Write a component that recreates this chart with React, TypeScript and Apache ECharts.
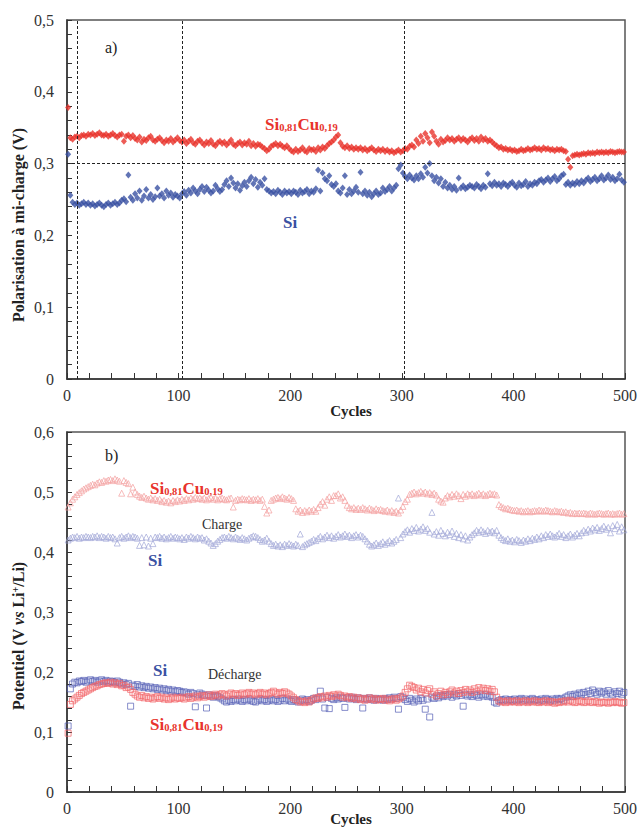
import React, { useEffect, useRef } from "react";
import * as echarts from "echarts";

// Sampled every 2 cycles: 1, 3, 5, ... 499
const CYCLES: number[] = Array.from({ length: 250 }, (_, i) => 2 * i + 1);

// a) Polarisation à mi-charge (V)
const POL_SICU = [
  0.378, 0.336, 0.334, 0.337, 0.338, 0.336, 0.339, 0.340, 0.338, 0.341,
  0.340, 0.342, 0.339, 0.341, 0.343, 0.340, 0.339, 0.341, 0.338, 0.340,
  0.342, 0.339, 0.337, 0.340, 0.341, 0.331, 0.338, 0.340, 0.336, 0.339,
  0.335, 0.333, 0.337, 0.330, 0.334, 0.332, 0.336, 0.338, 0.333, 0.331,
  0.334, 0.336, 0.332, 0.329, 0.333, 0.331, 0.335, 0.330, 0.333, 0.336,
  0.332, 0.330, 0.333, 0.328, 0.331, 0.334, 0.329, 0.327, 0.331, 0.333,
  0.329, 0.326, 0.330, 0.328, 0.332, 0.327, 0.325, 0.329, 0.331, 0.328,
  0.330, 0.326, 0.329, 0.333, 0.327, 0.325, 0.328, 0.330, 0.326, 0.329,
  0.327, 0.331, 0.325, 0.328, 0.324, 0.327, 0.326, 0.323, 0.321, 0.318,
  0.320, 0.324, 0.326, 0.328, 0.325, 0.327, 0.324, 0.322, 0.325, 0.321,
  0.318, 0.316, 0.320, 0.317, 0.319, 0.322, 0.318, 0.316, 0.321, 0.319,
  0.320, 0.317, 0.322, 0.319, 0.323, 0.321, 0.325, 0.328, 0.330, 0.333,
  0.337, 0.340, 0.329, 0.324, 0.322, 0.325, 0.321, 0.323, 0.320, 0.322,
  0.320, 0.322, 0.319, 0.321, 0.318, 0.320, 0.322, 0.319, 0.317, 0.320,
  0.318, 0.320, 0.317, 0.319, 0.316, 0.318, 0.315, 0.317, 0.319, 0.316,
  0.318, 0.321, 0.320, 0.324, 0.326, 0.323, 0.333, 0.328, 0.338, 0.331,
  0.342, 0.336, 0.329, 0.344, 0.338, 0.331, 0.327, 0.334, 0.330, 0.332,
  0.336, 0.333, 0.335, 0.331, 0.334, 0.336, 0.332, 0.335, 0.333, 0.330,
  0.334, 0.336, 0.332, 0.335, 0.331, 0.337, 0.333, 0.335, 0.331, 0.333,
  0.330, 0.327, 0.325, 0.322, 0.323, 0.320, 0.321, 0.319, 0.320, 0.318,
  0.319, 0.317, 0.318, 0.320, 0.318, 0.319, 0.321, 0.319, 0.320, 0.322,
  0.320, 0.321, 0.319, 0.322, 0.320, 0.321, 0.319, 0.320, 0.318, 0.320,
  0.319, 0.320, 0.318, 0.317, 0.306, 0.295, 0.311, 0.312, 0.313, 0.312,
  0.313, 0.314, 0.313, 0.315, 0.314, 0.315, 0.314, 0.316, 0.315, 0.316,
  0.315, 0.316, 0.315, 0.317, 0.316, 0.315, 0.316, 0.317, 0.316, 0.316,
];

const POL_SI = [
  0.313, 0.256, 0.246, 0.243, 0.245, 0.242, 0.244, 0.246, 0.243, 0.245,
  0.242, 0.244, 0.241, 0.243, 0.245, 0.242, 0.240, 0.243, 0.245, 0.242,
  0.244, 0.246, 0.243, 0.245, 0.249, 0.251, 0.247, 0.284, 0.253, 0.249,
  0.258, 0.252, 0.262, 0.249, 0.255, 0.264, 0.252, 0.257, 0.250, 0.254,
  0.266, 0.255, 0.258, 0.252, 0.262, 0.256, 0.259, 0.253, 0.257, 0.255,
  0.252, 0.258, 0.261, 0.256, 0.263, 0.259, 0.266, 0.262, 0.258, 0.264,
  0.268, 0.261, 0.267, 0.263, 0.259, 0.262, 0.270, 0.265, 0.261, 0.264,
  0.271, 0.276, 0.268, 0.280, 0.273, 0.266, 0.272, 0.263, 0.269, 0.274,
  0.268, 0.276, 0.281, 0.272, 0.278, 0.267, 0.274, 0.270, 0.279, 0.264,
  0.262, 0.259, 0.261, 0.258, 0.263, 0.260, 0.257, 0.262, 0.259, 0.261,
  0.258, 0.262, 0.260, 0.257, 0.263, 0.259, 0.261, 0.264, 0.258, 0.262,
  0.260, 0.265, 0.291, 0.262, 0.287, 0.279, 0.276, 0.283, 0.271, 0.268,
  0.272, 0.262, 0.259, 0.266, 0.283, 0.257, 0.264, 0.258, 0.262, 0.267,
  0.260, 0.288, 0.258, 0.262, 0.256, 0.260, 0.254, 0.258, 0.262, 0.257,
  0.259, 0.266, 0.261, 0.264, 0.268, 0.262, 0.266, 0.270, 0.293, 0.298,
  0.287, 0.282, 0.279, 0.284, 0.280, 0.277, 0.283, 0.279, 0.286, 0.281,
  0.295, 0.287, 0.300, 0.283, 0.276, 0.281, 0.273, 0.279, 0.268, 0.274,
  0.266, 0.270, 0.264, 0.268, 0.263, 0.280, 0.266, 0.269, 0.265, 0.267,
  0.270, 0.268, 0.266, 0.271, 0.268, 0.265, 0.270, 0.267, 0.286, 0.272,
  0.269, 0.274, 0.270, 0.272, 0.268, 0.273, 0.271, 0.268, 0.272, 0.274,
  0.270, 0.267, 0.273, 0.269, 0.271, 0.275, 0.268, 0.272, 0.270, 0.274,
  0.272, 0.276, 0.278, 0.274, 0.277, 0.280, 0.275, 0.279, 0.282, 0.276,
  0.279, 0.283, 0.285, 0.271, 0.274, 0.270, 0.273, 0.271, 0.275, 0.272,
  0.276, 0.273, 0.277, 0.280, 0.275, 0.278, 0.281, 0.276, 0.279, 0.283,
  0.277, 0.280, 0.284, 0.278, 0.281, 0.276, 0.279, 0.285, 0.277, 0.274,
];

// b) Potentiel (V vs Li+/Li) — charge
const CHG_SICU = [
  0.475, 0.482, 0.488, 0.492, 0.496, 0.499, 0.502, 0.505, 0.507, 0.509,
  0.511, 0.513, 0.512, 0.515, 0.517, 0.516, 0.519, 0.518, 0.520, 0.521,
  0.519, 0.522, 0.520, 0.518, 0.498, 0.519, 0.516, 0.514, 0.497, 0.508,
  0.500, 0.496, 0.493, 0.491, 0.493, 0.490, 0.488, 0.490, 0.487, 0.489,
  0.486, 0.488, 0.484, 0.486, 0.483, 0.485, 0.482, 0.486, 0.484, 0.487,
  0.485, 0.488, 0.486, 0.489, 0.487, 0.490, 0.488, 0.491, 0.489, 0.490,
  0.488, 0.490, 0.487, 0.489, 0.491, 0.488, 0.490, 0.487, 0.489, 0.490,
  0.488, 0.487, 0.489, 0.490, 0.475, 0.486, 0.488, 0.487, 0.489, 0.488,
  0.487, 0.489, 0.486, 0.488, 0.487, 0.489, 0.486, 0.488, 0.476, 0.465,
  0.470, 0.486, 0.488, 0.490, 0.491, 0.489, 0.492, 0.490, 0.488, 0.491,
  0.489, 0.486, 0.472, 0.468, 0.470, 0.466, 0.469, 0.467, 0.470, 0.468,
  0.471, 0.468, 0.474, 0.480, 0.484, 0.478, 0.488, 0.492, 0.486, 0.494,
  0.494, 0.497, 0.490, 0.492, 0.486, 0.478, 0.474, 0.472, 0.474, 0.471,
  0.473, 0.471, 0.474, 0.472, 0.470, 0.473, 0.471, 0.469, 0.472, 0.470,
  0.471, 0.469, 0.468, 0.470, 0.467, 0.469, 0.466, 0.468, 0.465, 0.470,
  0.476, 0.484, 0.488, 0.496, 0.498, 0.500, 0.497, 0.499, 0.501, 0.498,
  0.500, 0.497, 0.499, 0.496, 0.498, 0.495, 0.488, 0.485, 0.483, 0.490,
  0.494, 0.492, 0.496, 0.493, 0.497, 0.494, 0.489, 0.496, 0.493, 0.497,
  0.495, 0.497, 0.494, 0.496, 0.498, 0.495, 0.497, 0.494, 0.496, 0.498,
  0.496, 0.497, 0.495, 0.479, 0.476, 0.474, 0.472, 0.473, 0.471, 0.470,
  0.469, 0.470, 0.468, 0.469, 0.467, 0.468, 0.469, 0.467, 0.468, 0.469,
  0.468, 0.470, 0.469, 0.468, 0.470, 0.469, 0.468, 0.467, 0.469, 0.468,
  0.467, 0.468, 0.466, 0.467, 0.465, 0.466, 0.464, 0.465, 0.464, 0.465,
  0.464, 0.465, 0.464, 0.463, 0.465, 0.464, 0.463, 0.464, 0.465, 0.464,
  0.463, 0.464, 0.465, 0.463, 0.464, 0.463, 0.464, 0.465, 0.463, 0.464,
];

const CHG_SI = [
  0.420, 0.423, 0.425, 0.424, 0.426, 0.423, 0.425, 0.424, 0.426, 0.425,
  0.424, 0.426, 0.425, 0.427, 0.424, 0.426, 0.425, 0.423, 0.426, 0.424,
  0.425, 0.422, 0.415, 0.424, 0.426, 0.423, 0.425, 0.427, 0.424, 0.426,
  0.425, 0.423, 0.411, 0.424, 0.412, 0.425, 0.410, 0.423, 0.414, 0.425,
  0.424, 0.426, 0.423, 0.425, 0.422, 0.424, 0.426, 0.423, 0.425, 0.424,
  0.422, 0.424, 0.421, 0.425, 0.423, 0.426, 0.424, 0.422, 0.425, 0.423,
  0.424, 0.420, 0.422, 0.418, 0.415, 0.411, 0.414, 0.418, 0.421, 0.424,
  0.425, 0.423, 0.426, 0.424, 0.422, 0.425, 0.423, 0.421, 0.424, 0.422,
  0.420, 0.423, 0.425, 0.427, 0.426, 0.424, 0.421, 0.418, 0.420, 0.423,
  0.418, 0.414, 0.411, 0.413, 0.410, 0.412, 0.409, 0.413, 0.411, 0.414,
  0.412, 0.410, 0.413, 0.411, 0.430, 0.409, 0.412, 0.414, 0.416, 0.418,
  0.421, 0.419, 0.423, 0.426, 0.422, 0.425, 0.428, 0.424, 0.427, 0.423,
  0.426, 0.429, 0.425, 0.427, 0.430, 0.426, 0.428, 0.424, 0.427, 0.429,
  0.425, 0.428, 0.426, 0.422, 0.418, 0.413, 0.410, 0.412, 0.415, 0.411,
  0.414, 0.417, 0.413, 0.416, 0.419, 0.415, 0.418, 0.421, 0.490, 0.424,
  0.430, 0.434, 0.437, 0.433, 0.439, 0.436, 0.441, 0.435, 0.438, 0.442,
  0.436, 0.439, 0.433, 0.466, 0.430, 0.434, 0.428, 0.436, 0.431, 0.427,
  0.433, 0.429, 0.435, 0.426, 0.431, 0.424, 0.429, 0.422, 0.427, 0.420,
  0.425, 0.429, 0.432, 0.436, 0.433, 0.437, 0.434, 0.431, 0.436, 0.433,
  0.435, 0.432, 0.436, 0.428, 0.424, 0.421, 0.419, 0.422, 0.418, 0.420,
  0.417, 0.421, 0.419, 0.416, 0.420, 0.418, 0.422, 0.419, 0.423, 0.421,
  0.425, 0.422, 0.427, 0.424, 0.429, 0.426, 0.430, 0.427, 0.425, 0.428,
  0.431, 0.426, 0.429, 0.424, 0.427, 0.430, 0.425, 0.428, 0.431, 0.427,
  0.432, 0.436, 0.433, 0.438, 0.435, 0.440, 0.437, 0.441, 0.436, 0.439,
  0.443, 0.438, 0.441, 0.432, 0.444, 0.439, 0.446, 0.435, 0.442, 0.437,
];

// b) — décharge
const DIS_SI = [
  0.110, 0.172, 0.180, 0.183, 0.182, 0.185, 0.184, 0.186, 0.183, 0.185,
  0.187, 0.184, 0.186, 0.183, 0.185, 0.187, 0.184, 0.186, 0.183, 0.185,
  0.184, 0.182, 0.185, 0.183, 0.180, 0.182, 0.179, 0.181, 0.143, 0.178,
  0.176, 0.179, 0.175, 0.177, 0.174, 0.176, 0.173, 0.175, 0.172, 0.174,
  0.171, 0.173, 0.170, 0.172, 0.169, 0.171, 0.168, 0.170, 0.167, 0.169,
  0.168, 0.166, 0.167, 0.165, 0.163, 0.166, 0.164, 0.142, 0.162, 0.165,
  0.163, 0.161, 0.140, 0.162, 0.160, 0.158, 0.161, 0.159, 0.157, 0.155,
  0.152, 0.150, 0.153, 0.151, 0.154, 0.152, 0.155, 0.153, 0.151, 0.154,
  0.152, 0.155, 0.153, 0.151, 0.150, 0.153, 0.155, 0.152, 0.154, 0.151,
  0.153, 0.155, 0.152, 0.154, 0.151, 0.153, 0.156, 0.152, 0.155, 0.153,
  0.151, 0.154, 0.152, 0.150, 0.153, 0.155, 0.152, 0.154, 0.151, 0.153,
  0.156, 0.154, 0.157, 0.168, 0.155, 0.140, 0.158, 0.139, 0.156, 0.154,
  0.157, 0.155, 0.158, 0.156, 0.141, 0.157, 0.155, 0.158, 0.156, 0.154,
  0.157, 0.155, 0.140, 0.156, 0.154, 0.157, 0.155, 0.153, 0.156, 0.154,
  0.155, 0.153, 0.156, 0.154, 0.157, 0.155, 0.158, 0.156, 0.138, 0.159,
  0.157, 0.154, 0.151, 0.156, 0.153, 0.150, 0.155, 0.152, 0.156, 0.153,
  0.138, 0.155, 0.125, 0.158, 0.156, 0.160, 0.157, 0.161, 0.159, 0.162,
  0.160, 0.163, 0.158, 0.162, 0.160, 0.164, 0.161, 0.143, 0.163, 0.160,
  0.162, 0.159, 0.163, 0.161, 0.158, 0.162, 0.160, 0.163, 0.159, 0.161,
  0.158, 0.150, 0.148, 0.152, 0.154, 0.153, 0.155, 0.152, 0.154, 0.153,
  0.155, 0.152, 0.154, 0.156, 0.153, 0.155, 0.152, 0.154, 0.156, 0.153,
  0.154, 0.152, 0.155, 0.153, 0.156, 0.154, 0.152, 0.155, 0.153, 0.156,
  0.154, 0.156, 0.153, 0.158, 0.160, 0.162, 0.159, 0.163, 0.161, 0.165,
  0.163, 0.166, 0.162, 0.168, 0.164, 0.170, 0.166, 0.163, 0.168, 0.165,
  0.167, 0.163, 0.169, 0.165, 0.162, 0.167, 0.164, 0.168, 0.163, 0.166,
];

const DIS_SICU = [
  0.098, 0.146, 0.152, 0.155, 0.158, 0.161, 0.164, 0.166, 0.168, 0.170,
  0.172, 0.174, 0.176, 0.177, 0.179, 0.180, 0.181, 0.182, 0.181, 0.183,
  0.180, 0.182, 0.179, 0.181, 0.177, 0.178, 0.174, 0.175, 0.171, 0.166,
  0.163, 0.160, 0.158, 0.161, 0.157, 0.159, 0.156, 0.158, 0.155, 0.157,
  0.159, 0.156, 0.158, 0.155, 0.157, 0.154, 0.156, 0.158, 0.155, 0.157,
  0.156, 0.158, 0.155, 0.157, 0.159, 0.156, 0.158, 0.160, 0.157, 0.159,
  0.161, 0.158, 0.160, 0.162, 0.159, 0.161, 0.163, 0.160, 0.162, 0.164,
  0.162, 0.160, 0.163, 0.165, 0.162, 0.164, 0.161, 0.163, 0.165, 0.162,
  0.164, 0.166, 0.163, 0.165, 0.162, 0.164, 0.166, 0.163, 0.165, 0.162,
  0.164, 0.166, 0.168, 0.165, 0.163, 0.166, 0.164, 0.167, 0.165, 0.163,
  0.160, 0.157, 0.154, 0.152, 0.150, 0.151, 0.149, 0.152, 0.150, 0.153,
  0.155, 0.157, 0.156, 0.159, 0.157, 0.160, 0.158, 0.161, 0.159, 0.162,
  0.160, 0.163, 0.161, 0.158, 0.160, 0.157, 0.159, 0.156, 0.158, 0.155,
  0.157, 0.154, 0.156, 0.153, 0.155, 0.157, 0.154, 0.156, 0.153, 0.155,
  0.154, 0.156, 0.153, 0.155, 0.152, 0.154, 0.156, 0.153, 0.155, 0.157,
  0.160, 0.166, 0.172, 0.178, 0.176, 0.174, 0.170, 0.173, 0.167, 0.171,
  0.165, 0.169, 0.172, 0.163, 0.167, 0.160, 0.164, 0.168, 0.162, 0.166,
  0.163, 0.167, 0.170, 0.165, 0.168, 0.164, 0.169, 0.166, 0.171, 0.167,
  0.170, 0.166, 0.172, 0.168, 0.174, 0.170, 0.173, 0.169, 0.172, 0.168,
  0.171, 0.167, 0.158, 0.152, 0.150, 0.151, 0.149, 0.152, 0.150, 0.151,
  0.150, 0.152, 0.149, 0.151, 0.150, 0.152, 0.149, 0.151, 0.150, 0.152,
  0.150, 0.149, 0.151, 0.150, 0.152, 0.149, 0.151, 0.150, 0.148, 0.150,
  0.149, 0.151, 0.150, 0.152, 0.150, 0.153, 0.151, 0.149, 0.150, 0.152,
  0.151, 0.149, 0.150, 0.152, 0.150, 0.149, 0.151, 0.150, 0.148, 0.150,
  0.149, 0.150, 0.148, 0.150, 0.149, 0.151, 0.149, 0.150, 0.148, 0.149,
];

// dashed guides in a)
const GUIDE_CYCLES = [9, 103, 302];
const GUIDE_POL = 0.3;

const X_TICKS = { min: 0, max: 500, interval: 100 };
const Y_TOP = { min: 0, max: 0.5, interval: 0.1 };
const Y_BOT = { min: 0, max: 0.6, interval: 0.1 };

const FONT = "'Liberation Serif', 'DejaVu Serif', serif";
const RED = "#e8332c";
const BLUE = "#3a51a3";

const commaFmt = (v: number) => (v === 0 ? "0" : v.toFixed(1).replace(".", ","));

function xAxis(gridIndex: number) {
  return {
    type: "value",
    gridIndex,
    ...X_TICKS,
    axisLine: { show: true, onZero: false, lineStyle: { color: "#333", width: 1.5 } },
    axisTick: { show: true, inside: true, length: 6, lineStyle: { color: "#333" } },
    minorTick: { show: true, splitNumber: 5, length: 6, lineStyle: { color: "#333" } },
    splitLine: { show: false },
    axisLabel: { margin: 8, fontFamily: FONT, fontSize: 16, color: "#333" },
  };
}

function yAxis(gridIndex: number, range: any) {
  return {
    type: "value",
    gridIndex,
    ...range,
    axisLine: { show: true, onZero: false, lineStyle: { color: "#333", width: 1.5 } },
    axisTick: { show: true, inside: true, length: 5, lineStyle: { color: "#333" } },
    minorTick: { show: true, splitNumber: 5, length: 5, lineStyle: { color: "#333" } },
    splitLine: { show: false },
    axisLabel: { margin: 13, fontFamily: FONT, fontSize: 16, color: "#333", formatter: commaFmt },
  };
}

const pts = (vals: number[]) => CYCLES.map((c, i) => [c, vals[i]]);

function hollow(name: string, vals: number[], symbol: string, stroke: string) {
  return {
    name,
    type: "scatter",
    xAxisIndex: 1,
    yAxisIndex: 1,
    data: pts(vals),
    symbol,
    symbolSize: 6,
    itemStyle: { color: "rgba(255,255,255,0)", borderColor: stroke, borderWidth: 0.9 },
  };
}

const subRich = (color: string) => ({
  b: { fontFamily: FONT, fontWeight: "bold", fontSize: 17, lineHeight: 17, fill: color, color, verticalAlign: "top" },
  s: { fontFamily: FONT, fontWeight: "bold", fontSize: 10.5, lineHeight: 10, padding: [10, 0, 0, 0], fill: color, color, verticalAlign: "bottom" },
});

function label(x: number, y: number, text: string, opts: any, align = "left") {
  return {
    type: "text",
    x,
    y,
    silent: true,
    style: { text, align, verticalAlign: "middle", textAlign: align, textVerticalAlign: "middle", ...opts },
  };
}

export default function App() {
  const ref = useRef<HTMLDivElement>(null);

  useEffect(() => {
    document.body.style.margin = "0";
    if (!ref.current) return;
    const chart = echarts.init(ref.current, undefined, { renderer: "svg" });

    const siCu = "{b|Si}{s|0,81}{b|Cu}{s|0,19}";
    const cyclesStyle = { fontFamily: FONT, fontWeight: "bold", fontSize: 15, fill: "#222" };

    chart.setOption({
      animation: false,
      backgroundColor: "#fff",
      grid: [
        { left: 67, top: 20, width: 558, height: 359, show: true, borderColor: "#555", borderWidth: 1.5, containLabel: false, outerBoundsMode: "none" },
        { left: 67, top: 432, width: 558, height: 360, show: true, borderColor: "#555", borderWidth: 1.5, containLabel: false, outerBoundsMode: "none" },
      ],
      xAxis: [xAxis(0), xAxis(1)],
      yAxis: [yAxis(0, Y_TOP), yAxis(1, Y_BOT)],
      series: [
        {
          name: "Si0,81Cu0,19 polarisation",
          type: "scatter",
          xAxisIndex: 0,
          yAxisIndex: 0,
          data: pts(POL_SICU),
          symbol: "diamond",
          symbolSize: [6, 7],
          itemStyle: { color: RED },
          z: 3,
          markLine: {
            silent: true,
            symbol: ["none", "none"],
            label: { show: false },
            lineStyle: { color: "#222", type: [3, 2], width: 1 },
            data: [...GUIDE_CYCLES.map((c) => ({ xAxis: c })), { yAxis: GUIDE_POL }],
          },
        },
        {
          name: "Si polarisation",
          type: "scatter",
          xAxisIndex: 0,
          yAxisIndex: 0,
          data: pts(POL_SI),
          symbol: "diamond",
          symbolSize: [6, 7],
          itemStyle: { color: BLUE },
          z: 3,
        },
        hollow("Si charge", CHG_SI, "triangle", "#a3a8d8"),
        hollow("Si0,81Cu0,19 charge", CHG_SICU, "triangle", "#f4a2a2"),
        hollow("Si décharge", DIS_SI, "rect", "#5861b6"),
        hollow("Si0,81Cu0,19 décharge", DIS_SICU, "rect", "#f26468"),
      ],
      graphic: [
        {
          type: "text",
          x: 18,
          y: 225,
          rotation: Math.PI / 2,
          silent: true,
          style: {
            text: "Polarisation à mi-charge (V)",
            fontFamily: FONT,
            fontWeight: "bold",
            fontSize: 16,
            fill: "#222",
            align: "center",
            verticalAlign: "middle",
            textAlign: "center",
            textVerticalAlign: "middle",
          },
        },
        {
          type: "text",
          x: 18,
          y: 636,
          rotation: Math.PI / 2,
          silent: true,
          style: {
            text: "{b|Potentiel (V }{i|vs}{b| Li}{p|+}{b|/Li)}",
            align: "center",
            verticalAlign: "middle",
            textAlign: "center",
            textVerticalAlign: "middle",
            rich: {
              b: { fontFamily: FONT, fontWeight: "bold", fontSize: 16, lineHeight: 16, fill: "#222", verticalAlign: "bottom" },
              i: { fontFamily: FONT, fontWeight: "bold", fontStyle: "italic", fontSize: 16, lineHeight: 16, fill: "#222", verticalAlign: "bottom" },
              p: { fontFamily: FONT, fontWeight: "bold", fontSize: 10, lineHeight: 10, fill: "#222", verticalAlign: "top" },
            },
          },
        },
        label(351, 411, "Cycles", cyclesStyle, "center"),
        label(351, 819, "Cycles", cyclesStyle, "center"),
        label(105, 47, "a)", { fontFamily: FONT, fontSize: 16, fill: "#222" }),
        label(265, 124, siCu, { rich: subRich(RED) }),
        label(283, 222, "Si", { fontFamily: FONT, fontWeight: "bold", fontSize: 17, fill: BLUE }),
        label(105, 455, "b)", { fontFamily: FONT, fontSize: 16, fill: "#222" }),
        label(150, 488, siCu, { rich: subRich(RED) }),
        label(202, 524, "Charge", { fontFamily: FONT, fontSize: 14, fill: "#333" }),
        label(148, 560, "Si", { fontFamily: FONT, fontWeight: "bold", fontSize: 17, fill: BLUE }),
        label(153, 670, "Si", { fontFamily: FONT, fontWeight: "bold", fontSize: 17, fill: BLUE }),
        label(208, 674, "Décharge", { fontFamily: FONT, fontSize: 14, fill: "#333" }),
        label(150, 724, siCu, { rich: subRich(RED) }),
      ],
    });

    return () => chart.dispose();
  }, []);

  return <div ref={ref} style={{ width: 638, height: 830 }} />;
}
